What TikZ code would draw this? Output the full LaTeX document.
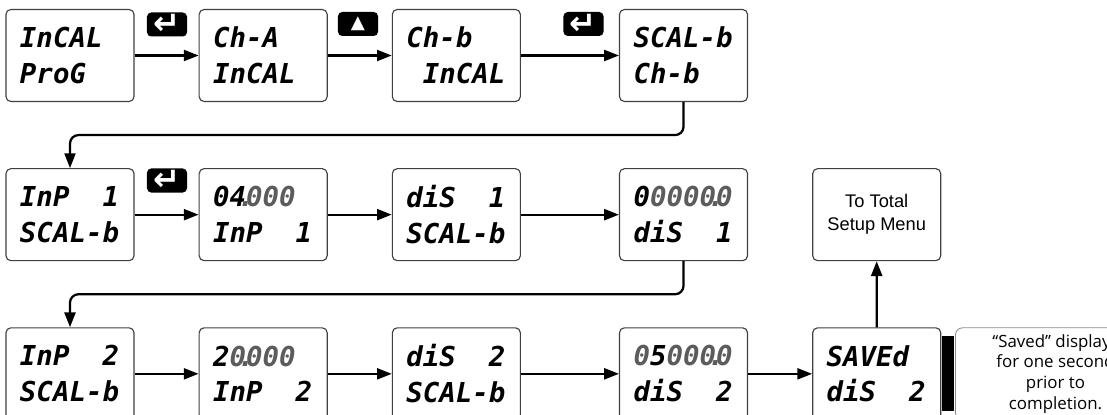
\documentclass[tikz,border=0pt]{standalone}
\usepackage{fontspec}
\setmainfont{Liberation Sans}
\newfontfamily\lcdfont{DejaVu Sans Mono}
\newfontfamily\symfont{DejaVu Sans}
\newfontfamily\notefont{Open Sans}
\usetikzlibrary{arrows.meta,positioning,calc}

\definecolor{dimdigit}{HTML}{5C5C5C}
\newcommand\dimd[1]{\textcolor{dimdigit}{#1}}
\newcommand\decpt{\makebox[0pt]{.}}
\newcommand\cellgap{\hphantom{0}}

\begin{document}
\begin{tikzpicture}[
        x=0.025cm, y=0.025cm,
        node distance=1.65cm and 1.6cm,
        >=Latex,
        lcd/.style={draw=black!75, rounded corners=3.5pt, line width=0.8pt, align=left, text width=2.5cm, minimum width=3.2cm, minimum height=2.3cm, inner xsep=0.35cm, font=\lcdfont\bfseries\itshape\fontsize{19.5}{25.5}\selectfont},
        menu/.style={draw=black!75, rounded corners=3.5pt, line width=0.8pt, align=center, minimum width=3.2cm, minimum height=2.3cm, font=\fontsize{13}{16.3}\selectfont},
        note/.style={draw=black!45, rounded corners=5pt, line width=0.6pt, align=center, minimum width=5cm, minimum height=2.3cm, inner sep=0pt, font=\notefont\fontsize{12}{14.7}\selectfont},
        keycap/.style={fill=black, rounded corners=3pt, minimum width=1cm, minimum height=0.6cm, inner sep=0pt, text=white, font=\symfont\bfseries\fontsize{23}{23}\selectfont},
        link/.style={draw=black, line width=1.6pt, -{Triangle[length=10.5pt,width=7.8pt]}}
    ]
        \useasboundingbox (0,0) rectangle (1107,415);
        \clip (0,0) rectangle (1107,415);

        % first row: calibration entry
        \node[lcd] (incal) at (70,359.5) {InCAL\\ProG};
        \node[lcd, right=of incal] (chA) {Ch-A\\InCAL};
        \node[lcd, right=of chA] (chB) {Ch-b\\\cellgap InCAL};
        \node[lcd, right=2.45cm of chB] (scalB) {SCAL-b\\Ch-b};

        % second row: first point
        \node[lcd, below=of incal] (inpOne) {InP\cellgap\cellgap1\\SCAL-b};
        \node[lcd, right=of inpOne] (inpOneVal) {04\dimd{\decpt000}\\InP\cellgap\cellgap1};
        \node[lcd, right=of inpOneVal] (disOne) {diS\cellgap\cellgap1\\SCAL-b};
        \node[lcd, right=2.45cm of disOne] (disOneVal) {0\dimd{0000\decpt0}\\diS\cellgap\cellgap1};
        \node[menu, right=of disOneVal] (total) {To Total\\Setup Menu};

        % third row: second point
        \node[lcd, below=of inpOne] (inpTwo) {InP\cellgap\cellgap2\\SCAL-b};
        \node[lcd, right=of inpTwo] (inpTwoVal) {2\dimd{0\decpt000}\\InP\cellgap\cellgap2};
        \node[lcd, right=of inpTwoVal] (disTwo) {diS\cellgap\cellgap2\\SCAL-b};
        \node[lcd, right=2.45cm of disTwo] (disTwoVal) {\dimd{0}5\dimd{000\decpt0}\\diS\cellgap\cellgap2};
        \node[lcd, right=of disTwoVal] (saved) {SAVEd\\diS\cellgap\cellgap2};

        \node[fill=black, minimum width=0.3cm, minimum height=1.875cm, inner sep=0pt, anchor=west] (bar) at (saved.east) {};
        \node[note, right=0.03cm of bar] (note) {“Saved” displays\\for one second\\prior to\\completion.};

        % keys
        \node[keycap] (keyEnterA) at (167,390.5) {↵};
        \node[keycap, font=\symfont\fontsize{13}{13}\selectfont] (keyUp) at (358,391) {▲};
        \node[keycap] (keyEnterB) at (583.5,391) {↵};
        \node[keycap] (keyEnterC) at (167,234.5) {↵};

        \draw[link] (incal) -- (chA);
        \draw[link] (chA) -- (chB);
        \draw[link] (chB) -- (scalB);
        \coordinate (bendOne) at ($(scalB.south)!.5!(inpOne.north)$);
        \draw[link, rounded corners=6pt] (scalB.south) |- (bendOne) -| (inpOne.north);

        \draw[link] (inpOne) -- (inpOneVal);
        \draw[link] (inpOneVal) -- (disOne);
        \draw[link] (disOne) -- (disOneVal);
        \coordinate (bendTwo) at ($(disOneVal.south)!.5!(inpTwo.north)$);
        \draw[link, rounded corners=6pt] (disOneVal.south) |- (bendTwo) -| (inpTwo.north);

        \draw[link] (inpTwo) -- (inpTwoVal);
        \draw[link] (inpTwoVal) -- (disTwo);
        \draw[link] (disTwo) -- (disTwoVal);
        \draw[link] (disTwoVal) -- (saved);
        \draw[link] (saved) -- (total);
    \end{tikzpicture}
\end{document}
